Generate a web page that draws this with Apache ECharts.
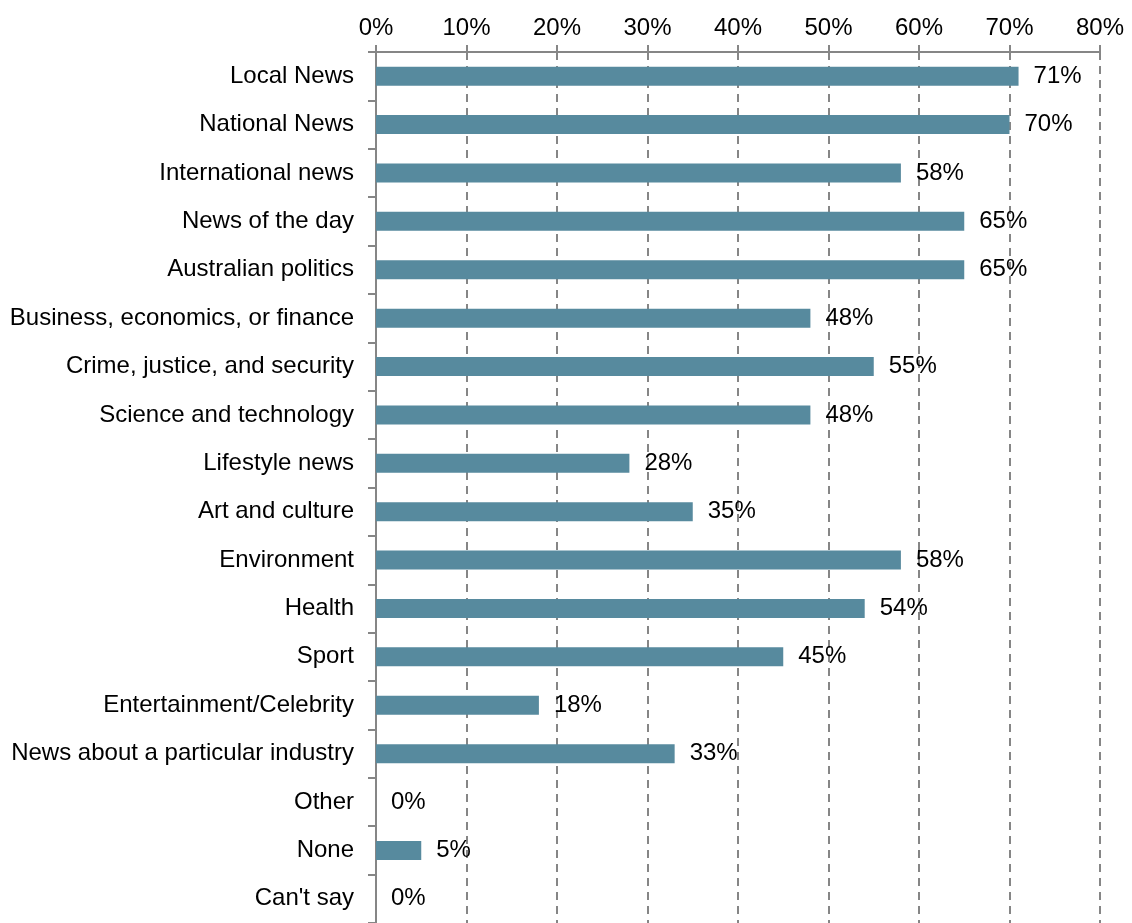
<!DOCTYPE html>
<html>
<head>
<meta charset="utf-8">
<title>News topics of interest</title>
<script src="https://cdn.jsdelivr.net/npm/echarts@6/dist/echarts.min.js"></script>
<style>
  html, body { margin: 0; padding: 0; background: #ffffff; }
  #chart { width: 1132px; height: 923px; }
</style>
</head>
<body>
<div id="chart"></div>
<script>
// Topic categories, listed top to bottom
const categories = [
  "Local News",
  "National News",
  "International news",
  "News of the day",
  "Australian politics",
  "Business, economics, or finance",
  "Crime, justice, and security",
  "Science and technology",
  "Lifestyle news",
  "Art and culture",
  "Environment",
  "Health",
  "Sport",
  "Entertainment/Celebrity",
  "News about a particular industry",
  "Other",
  "None",
  "Can't say"
];

// Share of respondents interested in each topic (%)
const shares = [71, 70, 58, 65, 65, 48, 55, 48, 28, 35, 58, 54, 45, 18, 33, 0, 5, 0];

// Percentage axis ticks
const tickValues = [0, 10, 20, 30, 40, 50, 60, 70, 80];

const FONT = "'Liberation Sans', Arial, sans-serif";
const AXIS_GREY = "#868686";

const chart = echarts.init(document.getElementById("chart"), null, { renderer: "canvas" });

const axisMin = tickValues[0];
const axisMax = tickValues[tickValues.length - 1];
const axisStep = tickValues[1] - tickValues[0];

chart.setOption({
  animation: false,
  backgroundColor: "#ffffff",
  grid: { left: 376, right: 32, top: 52, bottom: 0, containLabel: false },
  xAxis: [
    {
      type: "value",
      position: "top",
      min: axisMin,
      max: axisMax,
      interval: axisStep,
      axisLine: { show: true, lineStyle: { color: AXIS_GREY, width: 2 } },
      axisTick: { show: true, inside: false, length: 7, lineStyle: { color: AXIS_GREY, width: 2 } },
      axisLabel: {
        margin: 12,
        color: "#000000",
        fontFamily: FONT,
        fontSize: 24,
        formatter: v => v + "%"
      },
      splitLine: { show: true, lineStyle: { color: AXIS_GREY, width: 2, type: [8, 6] } }
    },
    {
      // companion axis that only draws the inner half of the cross tick marks
      type: "value",
      position: "top",
      min: axisMin,
      max: axisMax,
      interval: axisStep,
      axisLine: { show: false },
      axisTick: { show: true, inside: true, length: 7, lineStyle: { color: AXIS_GREY, width: 2 } },
      axisLabel: { show: false },
      splitLine: { show: false }
    }
  ],
  yAxis: {
    type: "category",
    inverse: true,
    data: categories,
    axisLine: { show: true, lineStyle: { color: AXIS_GREY, width: 2 } },
    axisTick: { show: true, inside: false, length: 8, lineStyle: { color: AXIS_GREY, width: 2 } },
    axisLabel: {
      margin: 22,
      color: "#000000",
      fontFamily: FONT,
      fontSize: 24
    },
    splitLine: { show: false }
  },
  series: [
    {
      type: "bar",
      xAxisIndex: 0,
      data: shares,
      barWidth: 19,
      itemStyle: { color: "#578A9E" },
      label: {
        show: true,
        position: "right",
        distance: 15,
        color: "#000000",
        fontFamily: FONT,
        fontSize: 24,
        formatter: p => p.value + "%"
      }
    }
  ]
});
</script>
</body>
</html>
